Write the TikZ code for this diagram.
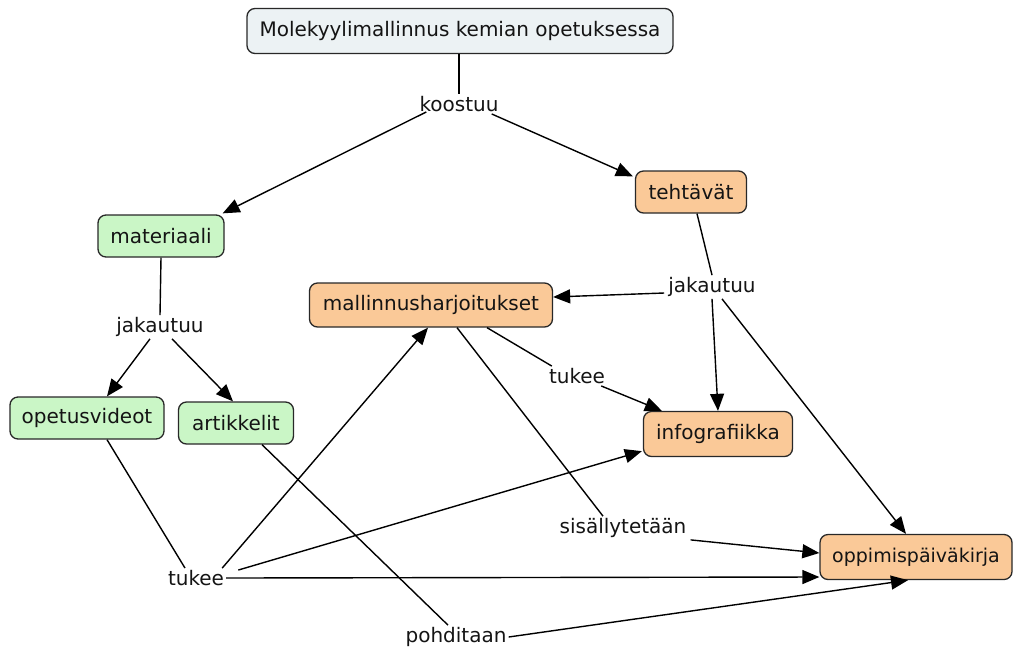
\documentclass[tikz,border=0pt]{standalone}
\usepackage{fontspec}
\setmainfont{DejaVu Sans}
\usetikzlibrary{arrows.meta,calc}
\definecolor{topfill}{RGB}{236,242,244}
\definecolor{greenfill}{RGB}{202,246,198}
\definecolor{orangefill}{RGB}{250,201,152}
\definecolor{edge}{RGB}{40,40,40}
\definecolor{ink}{RGB}{20,20,20}
\begin{document}
\begin{tikzpicture}[x=1pt,y=-1pt,
  concept/.style={draw=edge,line width=1.3pt,rounded corners=8pt,
    font=\fontsize{20}{23}\selectfont,text=ink,inner sep=0pt,
    minimum height=42pt},
  topbox/.style={concept,fill=topfill,minimum width=426pt,minimum height=45pt},
  greenbox/.style={concept,fill=greenfill},
  orangebox/.style={concept,fill=orangefill},
  linklabel/.style={font=\fontsize{20}{23}\selectfont,text=ink,inner sep=2pt},
  conn/.style={line width=1.4pt,draw=black},
  arr/.style={conn,-{Triangle[length=17pt,width=14pt]}}]
\useasboundingbox (0,0) rectangle (1014,649);

% concepts
\node[topbox] (title) at (460,31) {Molekyylimallinnus kemian opetuksessa};
\node[greenbox,minimum width=126pt] (mat) at (161,236) {materiaali};
\node[orangebox,minimum width=111pt] (teh) at (691,192) {tehtävät};
\node[greenbox,minimum width=154pt] (opv) at (87,418) {opetusvideot};
\node[greenbox,minimum width=115pt] (art) at (236,423) {artikkelit};
\node[orangebox,minimum width=243pt,minimum height=44pt] (mal) at (431,305) {mallinnusharjoitukset};
\node[orangebox,minimum width=149pt,minimum height=45pt] (info) at (718,434) {infografiikka};
\node[orangebox,minimum width=192pt,minimum height=45pt,font=\fontsize{19}{22}\selectfont] (opp) at (916,557) {oppimispäiväkirja};

% linking phrases
\node[linklabel] (koostuu) at (459,104) {koostuu};
\node[linklabel] (jak1) at (160,327) {jakautuu};
\node[linklabel] (jak2) at (712,287) {jakautuu};
\node[linklabel] (tuk1) at (577,376) {tukee};
\node[linklabel] (sis) at (623,528) {sisällytetään};
\node[linklabel] (tuk2) at (196,578) {tukee};
\node[linklabel] (poh) at (456,637) {pohditaan};

% connections
\draw[conn] (title.south -| koostuu.north) -- (koostuu.north);
\draw[arr] ($(koostuu.south west)+(9,-2)$) -- ($(mat.north east)+(-2,-1)$);
\draw[arr] ($(koostuu.south east)+(-9,0)$) -- ($(teh.north west)+(-2,6)$);

\draw[conn] (mat.south) -- (jak1.north);
\draw[arr] ($(jak1.south)+(-10,0)$) -- ($(opv.north)+(20,0)$);
\draw[arr] ($(jak1.south)+(12,0)$) -- ($(art.north)+(-3,0)$);

\draw[conn] ($(teh.south)+(6,0)$) -- (jak2.north);
\draw[arr] ($(jak2.west)+(-2,6)$) -- ($(mal.east)+(0,-8)$);
\draw[arr] (jak2.south) -- (info.north);
\draw[arr] ($(jak2.south)+(10,0)$) -- ($(opp.north)+(-10,0)$);

\draw[conn] ($(mal.south)+(56,0)$) -- ($(tuk1.north west)+(5,0)$);
\draw[arr] ($(tuk1.south east)+(-6,0)$) -- ($(info.north west)+(19,0)$);
\draw[conn] ($(mal.south)+(26,0)$) -- ($(sis.north)+(-20,0)$);
\draw[arr] ($(sis.south east)+(2,0)$) -- ($(opp.west)+(0,-4)$);

\draw[conn] ($(opv.south)+(20,0)$) -- ($(tuk2.north)+(-11,0)$);
\draw[arr] ($(tuk2.north east)+(-4,0)$) -- ($(mal.south)+(-3,0)$);
\draw[arr] ($(tuk2.north east)+(12,2)$) -- ($(info.south west)+(-1,-6)$);
\draw[arr] (tuk2.east) -- ($(opp.west)+(0,20)$);

\draw[conn] ($(art.south)+(26,0)$) -- ($(poh.north)+(-8,0)$);
\draw[arr] (poh.east) -- ($(opp.south)+(-8,0)$);
\end{tikzpicture}
\end{document}
